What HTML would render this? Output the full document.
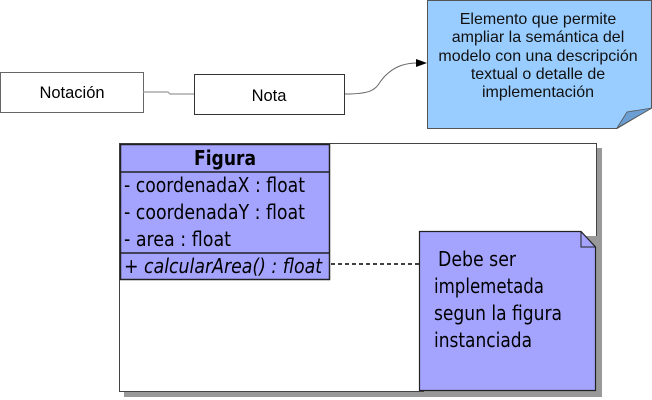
<!DOCTYPE html>
<html><head><meta charset="utf-8"><style>
html,body{margin:0;padding:0;background:#fff;width:652px;height:400px;overflow:hidden}
svg text{font-family:"DejaVu Sans Condensed","DejaVu Sans",sans-serif}
.l{font-family:"Liberation Sans",sans-serif !important}
</style></head><body>
<svg width="652" height="400" viewBox="0 0 652 400" xmlns="http://www.w3.org/2000/svg">
<!-- top -->
<rect x="0.5" y="72.5" width="143" height="40" fill="#fff" stroke="#666"/>
<text class="l" x="72" y="98" font-size="16.5" text-anchor="middle" fill="#000">Notación</text>
<polyline points="143,92 168,92 170,94 194,94" fill="none" stroke="#999" stroke-width="1.2"/>
<rect x="194.5" y="74.5" width="150" height="40" fill="#fff" stroke="#333"/>
<text class="l" x="269" y="101" font-size="16.5" text-anchor="middle" fill="#000">Nota</text>
<path d="M345,94 C380,94 375,86 385,76 C395,66 405,63 418,63" fill="none" stroke="#666" stroke-width="1"/>
<polygon points="427,63 416,59 416,67" fill="#000"/>
<path d="M427.5,0.5 H651.5 V108 L617,128.5 H427.5 Z" fill="#99ccff" stroke="#555"/>
<polygon points="617,128 652,108 627,112" fill="#6b9fd4" stroke="#555" stroke-width="0.8"/>
<g font-size="16" text-anchor="middle" fill="#111">
<text class="l" x="538" y="24">Elemento que permite</text>
<text class="l" x="538" y="42">ampliar la semántica del</text>
<text class="l" x="538" y="61">modelo con una descripción</text>
<text class="l" x="538" y="79">textual o detalle de</text>
<text class="l" x="538" y="97">implementación</text>
</g>
<!-- bottom -->
<rect x="124" y="148" width="478" height="249" fill="#999"/>
<rect x="119.5" y="143.5" width="477" height="248" fill="#fff" stroke="#444"/>
<rect x="120.5" y="144.5" width="209" height="135" fill="#a4a4ff" stroke="#222" stroke-width="1.5"/>
<line x1="120" y1="172" x2="330" y2="172" stroke="#222" stroke-width="1.5"/>
<line x1="120" y1="253" x2="330" y2="253" stroke="#222" stroke-width="1.5"/>
<text x="225" y="165" font-size="20" font-weight="bold" text-anchor="middle" fill="#000" textLength="62" lengthAdjust="spacingAndGlyphs">Figura</text>
<g font-size="20" fill="#000">
<text x="124" y="192" textLength="181" lengthAdjust="spacingAndGlyphs">- coordenadaX : float</text>
<text x="124" y="219" textLength="181" lengthAdjust="spacingAndGlyphs">- coordenadaY : float</text>
<text x="124" y="246" textLength="107" lengthAdjust="spacingAndGlyphs">- area : float</text>
<text x="124" y="273" font-style="italic" textLength="198" lengthAdjust="spacingAndGlyphs">+ calcularArea() : float</text>
</g>
<line x1="331" y1="264" x2="419" y2="264" stroke="#000" stroke-width="1.5" stroke-dasharray="4,3"/>
<rect x="424" y="236" width="178" height="161" fill="#999"/>
<path d="M419.5,231.5 H581 L595.5,247 V390.5 H419.5 Z" fill="#a4a4ff" stroke="#222" stroke-width="1.2"/>
<polyline points="581,231.5 581,247 595.5,247" fill="none" stroke="#222"/>
<g font-size="20" fill="#000">
<text x="438" y="266" textLength="78" lengthAdjust="spacingAndGlyphs">Debe ser</text>
<text x="434" y="293" textLength="110" lengthAdjust="spacingAndGlyphs">implemetada</text>
<text x="434" y="320" textLength="128" lengthAdjust="spacingAndGlyphs">segun la figura</text>
<text x="434" y="347" textLength="98" lengthAdjust="spacingAndGlyphs">instanciada</text>
</g>
</svg>
</body></html>
